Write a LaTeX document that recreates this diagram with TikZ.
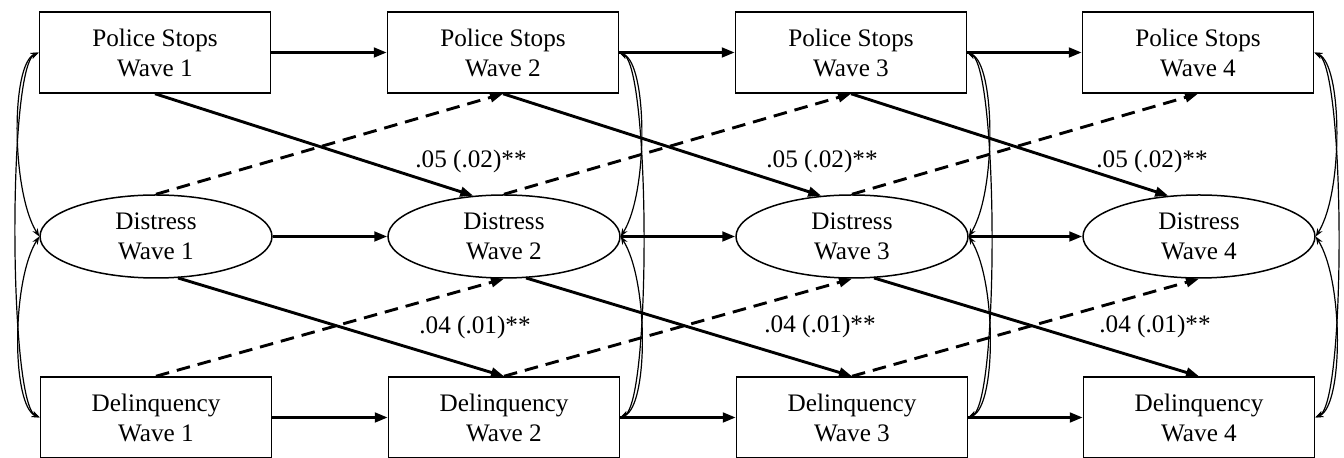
\documentclass[tikz,border=0pt]{standalone}
\usepackage{fontspec}
\setmainfont{Liberation Serif}
\usetikzlibrary{arrows.meta,shapes.geometric}

\begin{document}
\begin{tikzpicture}[x=.5pt,y=-.5pt,
  measure/.style={draw=black,line width=.75pt,minimum width=115.5pt,minimum height=40.5pt,
    inner sep=0pt,align=center,font=\fontsize{12.6}{15}\selectfont},
  latent/.style={measure,ellipse,minimum width=116pt,minimum height=41.5pt},
  stability/.style={draw=black,line width=1.45pt,-{Triangle[length=6.5pt,width=4.8pt]}},
  lagged/.style={stability},
  nullpath/.style={stability,dash pattern=on 6.8pt off 4pt},
  covar/.style={draw=black,line width=.6pt,{Stealth[length=4pt,width=3pt]}-{Stealth[length=4pt,width=3pt]}},
  coef/.style={font=\fontsize{12.6}{15}\selectfont}
]
\useasboundingbox (0,0) rectangle (1344,458);
% observed and latent measures, one column per wave
\node[measure] (stops1) at (155,52.5) {Police Stops\\Wave 1};
\node[measure] (stops2) at (503,52.5) {Police Stops\\Wave 2};
\node[measure] (stops3) at (851,52.5) {Police Stops\\Wave 3};
\node[measure] (stops4) at (1198,52.5) {Police Stops\\Wave 4};
\node[latent] (distress1) at (156,236.5) {Distress\\Wave 1};
\node[latent] (distress2) at (504,236.5) {Distress\\Wave 2};
\node[latent] (distress3) at (852,236.5) {Distress\\Wave 3};
\node[latent] (distress4) at (1199,236.5) {Distress\\Wave 4};
\node[measure] (delinq1) at (156,417.5) {Delinquency\\Wave 1};
\node[measure] (delinq2) at (504,417.5) {Delinquency\\Wave 2};
\node[measure] (delinq3) at (852,417.5) {Delinquency\\Wave 3};
\node[measure] (delinq4) at (1199,417.5) {Delinquency\\Wave 4};
% stability paths
\draw[stability] (stops1) -- (stops2);
\draw[stability] (stops2) -- (stops3);
\draw[stability] (stops3) -- (stops4);
\draw[stability] (distress1) -- (distress2);
\draw[stability] (distress2) -- (distress3);
\draw[stability] (distress3) -- (distress4);
\draw[stability] (delinq1) -- (delinq2);
\draw[stability] (delinq2) -- (delinq3);
\draw[stability] (delinq3) -- (delinq4);
% cross-lagged paths
\draw[lagged] (stops1.south) -- (distress2.127);
\draw[lagged] (stops2.south) -- (distress3.127);
\draw[lagged] (stops3.south) -- (distress4.127);
\draw[nullpath] (distress1.north) -- (stops2.south);
\draw[nullpath] (distress2.north) -- (stops3.south);
\draw[nullpath] (distress3.north) -- (stops4.south);
\draw[lagged] (distress1.-62) -- (delinq2.north);
\draw[lagged] (distress2.-62) -- (delinq3.north);
\draw[lagged] (distress3.-62) -- (delinq4.north);
\draw[nullpath] (delinq1.north) -- (distress2.south);
\draw[nullpath] (delinq2.north) -- (distress3.south);
\draw[nullpath] (delinq3.north) -- (distress4.south);
% within-wave covariances
\draw[covar] (stops1.west) .. controls +(-28,12) and +(-28,-45) .. (distress1.west);
\draw[covar] (distress1.west) .. controls +(-28,45) and +(-28,-12) .. (delinq1.west);
\draw[covar] (stops1.west) .. controls +(-31,15) and +(-31,-15) .. (delinq1.west);
\draw[covar] (stops2.east) .. controls +(28,12) and +(28,-45) .. (distress2.east);
\draw[covar] (distress2.east) .. controls +(28,45) and +(28,-12) .. (delinq2.east);
\draw[covar] (stops2.east) .. controls +(31,15) and +(31,-15) .. (delinq2.east);
\draw[covar] (stops3.east) .. controls +(28,12) and +(28,-45) .. (distress3.east);
\draw[covar] (distress3.east) .. controls +(28,45) and +(28,-12) .. (delinq3.east);
\draw[covar] (stops3.east) .. controls +(31,15) and +(31,-15) .. (delinq3.east);
\draw[covar] (stops4.east) .. controls +(28,12) and +(28,-45) .. (distress4.east);
\draw[covar] (distress4.east) .. controls +(28,45) and +(28,-12) .. (delinq4.east);
\draw[covar] (stops4.east) .. controls +(31,15) and +(31,-15) .. (delinq4.east);
% significant estimates
\node[coef] (stopsest1) at (471,161) {.05 (.02)**};
\node[coef] (stopsest2) at (822,161) {.05 (.02)**};
\node[coef] (stopsest3) at (1152,161) {.05 (.02)**};
\node[coef] (distressest1) at (475,327) {.04 (.01)**};
\node[coef] (distressest2) at (820,326) {.04 (.01)**};
\node[coef] (distressest3) at (1155,326) {.04 (.01)**};
\end{tikzpicture}
\end{document}
